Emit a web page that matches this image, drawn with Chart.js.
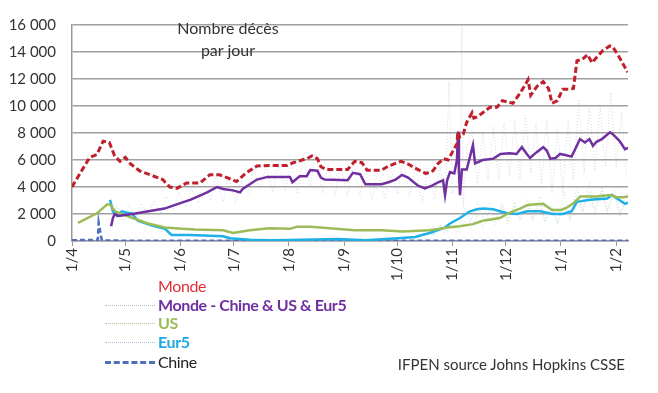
<!DOCTYPE html>
<html lang="fr">
<head>
<meta charset="utf-8">
<title>Nombre décès par jour</title>
<script src="https://cdn.jsdelivr.net/npm/chart.js@4.4.1/dist/chart.umd.min.js"></script>
<style>
  body { margin: 0; background: #fff; }
  #wrap { position: relative; width: 658px; height: 393px; font-family: Lato, sans-serif; }
  .txt { position: absolute; color: #333; white-space: nowrap; }
  .leg { position: absolute; left: 158px; font-size: 16px; line-height: 18px; letter-spacing: -0.4px; white-space: nowrap; }
  .sample { position: absolute; left: 105px; width: 50px; height: 0; }
</style>
</head>
<body>
<div id="wrap">
  <canvas id="myChart" width="658" height="393"></canvas>

  <div class="txt" style="left:168px; top:17px; width:120px; text-align:center; font-size:16px; line-height:22px;">Nombre décès<br>par jour</div>

  <div class="leg" style="top:277px; color:#e0303a;">Monde</div>
  <div class="sample" style="top:305px; border-top:1px dotted #b8b8b8;"></div>
  <div class="leg" style="top:296px; color:#7030a0; font-weight:bold;">Monde - Chine &amp; US &amp; Eur5</div>
  <div class="sample" style="top:323px; border-top:1px dotted #b8c4a0;"></div>
  <div class="leg" style="top:314px; color:#9bbb59; font-weight:bold;">US</div>
  <div class="sample" style="top:342px; border-top:1px dotted #a8bcd0;"></div>
  <div class="leg" style="top:333px; color:#1fa8e0; font-weight:bold;">Eur5</div>
  <div class="sample" style="top:361px; border-top:3px dashed #4f6fbd;"></div>
  <div class="leg" style="top:353px; color:#222;">Chine</div>

  <div class="txt" style="right:33px; top:355px; font-size:15px;">IFPEN source Johns Hopkins CSSE</div>
</div>

<script>
// jours depuis le 1er avril 2020
const monthDays = [0, 30, 61, 91, 122, 153, 183, 214, 244, 275, 306];
const monthLabels = ['1/4', '1/5', '1/6', '1/7', '1/8', '1/9', '1/10', '1/11', '1/12', '1/1', '1/2'];

const mondeDays = [0, 4.5, 10, 14, 17.5, 21, 24, 27, 30, 33, 38, 45, 51, 55, 59, 64.5, 72, 77.5, 83, 89,
    92.5, 98, 104, 111, 121, 124.5, 132, 135, 138, 140, 143, 155, 159, 163, 166, 174, 178, 185, 189, 193,
    199, 203, 206, 209, 211.5, 214, 216.5, 217, 218, 220, 222, 225, 226, 228, 231, 235, 239, 242, 248, 252,
    255, 256.5, 258, 261.5, 265, 268, 270, 273, 276, 280, 282, 284, 287, 290, 292.5, 295, 298.5, 302.5, 304, 307,
    310, 312.5];
const mondeValues = [4000, 5000, 6200, 6400, 7400, 7300, 6300, 5900, 6200, 5700, 5200, 4850, 4550, 4000, 3900, 4300, 4300, 4900, 4900, 4600,
    4400, 5050, 5550, 5600, 5600, 5800, 6100, 6300, 6100, 5500, 5300, 5300, 5900, 5800, 5250, 5250, 5550, 5900, 5700, 5400,
    5000, 5200, 5750, 6100, 6000, 6600, 7200, 8100, 7700, 7900, 8800, 9500, 9100, 9200, 9500, 9900, 9900, 10400, 10200, 10950,
    11600, 11950, 10800, 11450, 11800, 11300, 10200, 10400, 11250, 11250, 11300, 13350, 13450, 13800, 13200, 13600, 14100, 14450, 14400, 13800,
    13100, 12500];

const horsDays = [22, 23, 24, 26, 34, 43, 52, 63, 66.4, 70, 76, 81.6, 85, 90.5, 94.5, 96, 104, 110, 122.6, 124,
    128, 132, 134, 138, 140, 142, 155, 158, 162, 165, 174, 178, 182, 185.6, 189, 194.6, 198.5, 202.5, 206, 208.7,
    209.8, 211, 212.6, 215, 216.5, 217.1, 217.6, 218.2, 219.3, 222, 225.5, 226.7, 231, 237, 241, 246, 250, 253, 256, 257.6,
    261.5, 265, 267, 269, 272, 274.5, 278, 281, 285.7, 288.5, 291, 293, 295, 298, 302.6, 304.3, 308, 311, 312.7];
const horsValues = [1100, 1700, 2000, 1850, 2000, 2200, 2400, 2900, 3050, 3250, 3600, 4000, 3850, 3750, 3600, 3850, 4550, 4750, 4750, 4350,
    4800, 4800, 5250, 5200, 4700, 4550, 4500, 5050, 4950, 4200, 4200, 4350, 4550, 4900, 4700, 4100, 3900, 4100, 4350, 4500,
    3400, 4500, 5100, 5000, 6000, 8100, 5200, 3400, 5300, 5300, 7100, 5750, 6000, 6100, 6450, 6500, 6450, 6950, 6400, 6150,
    6600, 6950, 6700, 6100, 6150, 6450, 6350, 6250, 7550, 7300, 7550, 7050, 7350, 7550, 8050, 7900, 7400, 6800, 6900];

const usDays = [3.4, 14, 19.7, 21.4, 24.2, 31, 42.7, 52.3, 62, 69, 85, 90.5, 100, 111, 122.6, 126.5, 134, 139.5, 159, 174,
    186, 201, 207, 211, 218, 225.5, 231, 240.7, 244.7, 248, 252, 256, 259, 265, 270, 275, 278, 282, 286, 295,
    302.6, 306.5, 310, 312.7];
const usValues = [1350, 2050, 2700, 2700, 2200, 1850, 1300, 1000, 900, 850, 800, 600, 800, 950, 900, 1050, 1050, 1000, 800, 800,
    700, 800, 900, 1000, 1100, 1250, 1500, 1700, 2000, 2200, 2400, 2650, 2700, 2750, 2300, 2300, 2450, 2800, 3300, 3300,
    3400, 3250, 3250, 3300];

const eurDays = [21.4, 23, 25.3, 28, 31, 33.7, 37, 45, 52.3, 56, 63.6, 66.4, 85, 88.9, 100, 111, 122, 150, 165, 183.4,
    193, 202.5, 209.8, 212.6, 218.2, 223.8, 227.8, 231.2, 236.8, 240.7, 244.7, 250.3, 256, 263.2, 270.5, 276, 281, 284, 291.3, 301,
    303.7, 306.5, 311, 312.7];
const eurValues = [3050, 2200, 1850, 2200, 2100, 2050, 1500, 1150, 900, 450, 450, 450, 350, 200, 100, 50, 80, 150, 50, 200,
    300, 650, 1000, 1300, 1700, 2200, 2350, 2400, 2350, 2200, 2050, 2000, 2200, 2200, 2000, 2000, 2200, 2900, 3050, 3150,
    3400, 3150, 2750, 2850];

const chineDays = [0, 14.5, 15, 16, 16.5, 17, 30, 61, 91, 122, 153, 183, 214, 244, 275, 306, 313];
const chineValues = [60, 80, 1350, 600, 200, 50, 20, 10, 10, 10, 10, 10, 10, 10, 10, 10, 10];

// valeurs journalières brutes (pointillés)
const rawHorsDays = [22, 25, 29, 32, 36, 39, 43, 46, 50, 53, 57, 60, 64, 67, 71, 74, 78, 81, 85, 88,
    92, 95, 99, 102, 106, 109, 113, 116, 120, 123, 127, 130, 134, 137, 141, 144, 148, 151, 155, 158,
    162, 165, 169, 172, 176, 179, 183, 186, 190, 193, 197, 200, 204, 207, 210, 212, 214, 218, 219.3, 220,
    222, 225, 228, 231, 234, 237, 240, 243, 246, 249, 252, 255, 258, 261, 264, 267, 270, 273, 276, 279,
    282, 285, 288, 291, 294, 297, 300, 303, 306, 309, 312];
const rawHorsValues = [1500, 2600, 1400, 2700, 1700, 2800, 1900, 3000, 2000, 3300, 2300, 3600, 2500, 3900, 2800, 4400, 3000, 4800, 2900, 4700,
    2800, 4500, 3500, 5400, 3800, 5600, 3600, 5800, 3700, 5900, 3500, 6300, 4100, 6500, 3500, 5700, 3300, 5600, 3300, 5900,
    3400, 5500, 3000, 5300, 3100, 5600, 3500, 6100, 3300, 5600, 2900, 5200, 3100, 5600, 3000, 11800, 3500, 5000, 16000, 2500,
    7000, 8200, 4200, 8000, 4500, 8500, 4500, 8800, 4800, 8900, 4600, 9300, 5000, 8700, 4200, 9000, 3500, 8400, 3500, 9000,
    4500, 10500, 5000, 10000, 5200, 10000, 5500, 11000, 5500, 9500, 4500];

const rawDays = [200, 203, 207, 210, 214, 217, 221, 224, 228, 231, 235, 238, 242, 245, 249, 252, 256, 259, 263, 266,
    270, 273, 277, 280, 284, 287, 291, 294, 298, 301, 305, 308, 312];
const rawUsValues = [1100, 400, 1100, 500, 1300, 600, 1500, 800, 1900, 900, 2300, 1200, 2700, 1300, 2900, 1600, 3100, 1500, 3300, 1400,
    2600, 1300, 3600, 1600, 4100, 2000, 4300, 1800, 4000, 2200, 3900, 1800, 3600];
const rawEurValues = [800, 400, 1200, 700, 1600, 900, 2400, 1400, 2900, 1700, 2900, 1600, 2700, 1500, 2600, 1500, 2600, 1600, 2700, 1500,
    2400, 1300, 2500, 1500, 3400, 2200, 3600, 2300, 3700, 2200, 3500, 2000, 3000];

function pts(days, values) {
    return days.map((d, i) => ({ x: d, y: values[i] }));
}

function spaced(v) {
    return String(v).replace(/\B(?=(\d{3})+(?!\d))/g, ' ');
}

Chart.defaults.font.family = 'Lato, sans-serif';
Chart.defaults.font.size = 15;
Chart.defaults.color = '#333';

const lineBase = { pointRadius: 0, tension: 0, fill: false };

const data = {
    datasets: [
        { ...lineBase, label: 'Monde', data: pts(mondeDays, mondeValues), borderColor: '#c0202e', borderWidth: 3, borderDash: [6, 3], order: 1 },
        { ...lineBase, label: 'Monde - Chine & US & Eur5', data: pts(horsDays, horsValues), borderColor: '#7030a0', borderWidth: 2.5, order: 2 },
        { ...lineBase, label: 'US', data: pts(usDays, usValues), borderColor: '#9bbb59', borderWidth: 2.5, order: 3 },
        { ...lineBase, label: 'Eur5', data: pts(eurDays, eurValues), borderColor: '#1fb0e8', borderWidth: 2.5, order: 4 },
        { ...lineBase, label: 'Chine', data: pts(chineDays, chineValues), borderColor: '#4f6fbd', borderWidth: 2.5, borderDash: [5, 3], order: 5 },
        { ...lineBase, label: 'brut hors', data: pts(rawHorsDays, rawHorsValues), borderColor: 'rgba(150,140,190,0.35)', borderWidth: 1, borderDash: [1, 2], order: 6 },
        { ...lineBase, label: 'brut US', data: pts(rawDays, rawUsValues), borderColor: 'rgba(150,180,110,0.4)', borderWidth: 1, borderDash: [1, 2], order: 7 },
        { ...lineBase, label: 'brut Eur5', data: pts(rawDays, rawEurValues), borderColor: 'rgba(110,170,210,0.4)', borderWidth: 1, borderDash: [1, 2], order: 8 }
    ]
};

const config = {
    type: 'line',
    data: data,
    options: {
        responsive: false,
        animation: false,
        devicePixelRatio: 1,
        layout: { padding: { left: 0, right: 30, top: 16, bottom: 0 } },
        plugins: { legend: { display: false }, tooltip: { enabled: false } },
        scales: {
            x: {
                type: 'linear',
                min: 0,
                max: 312.7,
                afterBuildTicks: (scale) => { scale.ticks = monthDays.map(v => ({ value: v })); },
                afterFit: (scale) => { scale.height = 152; },
                ticks: {
                    autoSkip: false,
                    maxRotation: 90,
                    minRotation: 90,
                    padding: 2,
                    callback: (value) => monthLabels[monthDays.indexOf(value)]
                },
                grid: { drawOnChartArea: false, drawTicks: true, tickLength: 5, color: '#999' },
                border: { display: true, color: '#999', width: 1.5 }
            },
            y: {
                min: 0,
                max: 16000,
                afterFit: (scale) => { scale.width = 72; },
                ticks: { stepSize: 2000, padding: 16, callback: (v) => spaced(v) },
                grid: { color: '#a0a0a0', lineWidth: 1.5, drawTicks: false },
                border: { display: true, color: '#999', width: 1.5 }
            }
        }
    }
};

const myChart = new Chart(
    document.getElementById('myChart'),
    config
);
</script>
</body>
</html>
